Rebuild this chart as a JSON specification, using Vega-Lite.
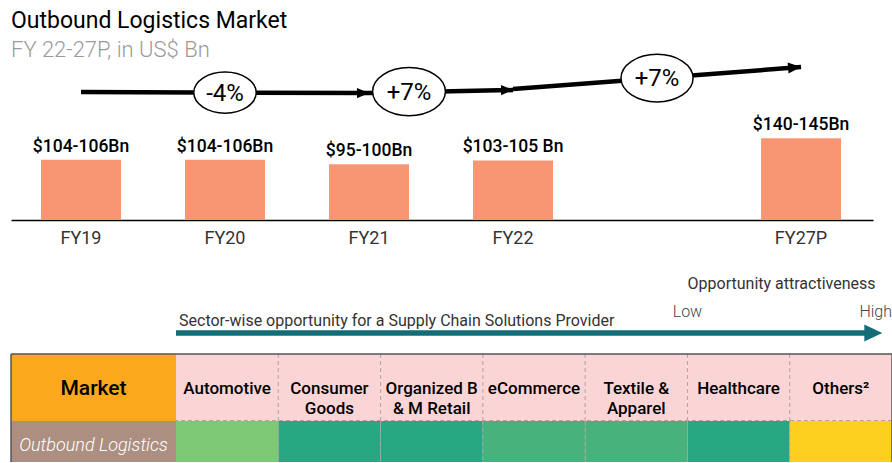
{
  "$schema": "https://vega.github.io/schema/vega-lite/v6.json",
  "padding": {"left": 10, "top": 10, "right": 0, "bottom": 0},
  "background": "white",
  "title": {
    "text": "Outbound Logistics Market",
    "subtitle": "FY 22-27P, in US$ Bn",
    "anchor": "start",
    "frame": "group",
    "baseline": "top",
    "font": "Roboto",
    "fontSize": 23,
    "fontWeight": 400,
    "color": "#000000",
    "subtitleFont": "Roboto",
    "subtitleFontSize": 22,
    "subtitleFontWeight": 300,
    "subtitleColor": "#9a9a9a",
    "subtitlePadding": 7,
    "offset": -10
  },
  "config": {"view": {"stroke": null}, "font": "Roboto", "concat": {"spacing": 0}},
  "spacing": 0,
  "bounds": "flush",
  "datasets": {
    "market": [
      {"year": "FY19", "value": 105, "label": "$104-106Bn"},
      {"year": "FY20", "value": 105, "label": "$104-106Bn"},
      {"year": "FY21", "value": 97.5, "label": "$95-100Bn"},
      {"year": "FY22", "value": 104, "label": "$103-105 Bn"},
      {"year": "FY27P", "value": 142.5, "label": "$140-145Bn"}
    ],
    "trend": [
      {"seg": 1, "year": "FY19", "level": 223.5, "end": false},
      {"seg": 1, "year": "FY21", "level": 221.5, "end": true},
      {"seg": 2, "year": "FY21", "level": 221.5, "end": false},
      {"seg": 2, "year": "FY22", "level": 226.8, "end": true},
      {"seg": 3, "year": "FY22", "level": 228.5, "end": false},
      {"seg": 3, "year": "FY27P", "level": 266.9, "end": true}
    ],
    "cagr": [
      {"period": "FY19-FY21", "year": "FY20", "level": 222.4, "cagr": "-4%"},
      {"period": "FY21-FY22", "year": "FY21", "level": 224.1, "cagr": "+7%"},
      {"period": "FY22-FY27P", "year": " ", "level": 247.7, "cagr": "+7%"}
    ],
    "sectors": [
      {"sector": "Automotive", "header": "Automotive", "market": "Outbound Logistics", "attractiveness": "Medium"},
      {"sector": "Consumer Goods", "header": "Consumer\nGoods", "market": "Outbound Logistics", "attractiveness": "High"},
      {"sector": "Organized B&M Retail", "header": "Organized B\n& M Retail", "market": "Outbound Logistics", "attractiveness": "High"},
      {"sector": "eCommerce", "header": "eCommerce", "market": "Outbound Logistics", "attractiveness": "Medium-High"},
      {"sector": "Textile & Apparel", "header": "Textile &\nApparel", "market": "Outbound Logistics", "attractiveness": "Medium-High"},
      {"sector": "Healthcare", "header": "Healthcare", "market": "Outbound Logistics", "attractiveness": "High"},
      {"sector": "Others", "header": "Others²", "market": "Outbound Logistics", "attractiveness": "Low"}
    ]
  },
  "vconcat": [
    {
      "width": 862,
      "height": 161,
      "layer": [
        {
          "data": {"name": "market"},
          "mark": {"type": "bar", "color": "#F89673"},
          "encoding": {
            "x": {
              "field": "year", "type": "nominal", "sort": null,
              "scale": {"type": "band", "domain": ["FY19", "FY20", "FY21", "FY22", " ", "FY27P"], "paddingInner": 0.4444, "paddingOuter": 0.215, "align": 0.484},
              "axis": {"title": null, "labelAngle": 0, "labelFont": "Roboto", "labelFontSize": 18, "labelFontWeight": 400, "labelColor": "#333333", "labelPadding": 9, "ticks": false, "domainColor": "#000000", "domainWidth": 1.5}
            },
            "y": {"field": "value", "type": "quantitative", "scale": {"domain": [0, 281], "nice": false, "zero": true}, "axis": null}
          }
        },
        {
          "data": {"name": "market"},
          "mark": {"type": "text", "baseline": "alphabetic", "dy": -8, "font": "Roboto", "fontSize": 17.5, "fontWeight": 500, "color": "#000000"},
          "encoding": {
            "x": {"field": "year", "type": "nominal"},
            "y": {"field": "value", "type": "quantitative", "axis": null},
            "text": {"field": "label"}
          }
        },
        {
          "data": {"name": "trend"},
          "mark": {"type": "line", "color": "#000000", "strokeWidth": 4.5, "strokeCap": "butt"},
          "encoding": {
            "x": {"field": "year", "type": "nominal"},
            "y": {"field": "level", "type": "quantitative", "axis": null},
            "detail": {"field": "seg", "type": "nominal"}
          }
        },
        {
          "data": {"name": "trend"},
          "transform": [{"filter": "datum.end && datum.seg < 3"}],
          "mark": {"type": "point", "shape": "M0,0L-2,-0.85L-2,0.85Z", "size": 144, "filled": true, "color": "#000000", "opacity": 1, "strokeWidth": 0, "angle": -0.6},
          "encoding": {
            "x": {"field": "year", "type": "nominal"},
            "y": {"field": "level", "type": "quantitative", "axis": null}
          }
        },
        {
          "data": {"name": "trend"},
          "transform": [{"filter": "datum.end && datum.seg == 3"}],
          "mark": {"type": "point", "shape": "M0,0L-2,-0.85L-2,0.85Z", "size": 169, "filled": true, "color": "#000000", "opacity": 1, "strokeWidth": 0, "angle": -4.4},
          "encoding": {
            "x": {"field": "year", "type": "nominal"},
            "y": {"field": "level", "type": "quantitative", "axis": null}
          }
        },
        {
          "data": {"name": "cagr"},
          "transform": [{"filter": "datum.period != 'FY21-FY22'"}],
          "mark": {"type": "point", "shape": "M-1,0A1,0.66,0,0,1,1,0A1,0.66,0,0,1,-1,0Z", "filled": false, "fill": "#ffffff", "fillOpacity": 1, "stroke": "#000000", "strokeWidth": 1.5, "opacity": 1},
          "encoding": {
            "x": {"field": "year", "type": "nominal"},
            "y": {"field": "level", "type": "quantitative", "axis": null},
            "size": {"condition": {"test": "datum.period == 'FY19-FY21'", "value": 3900}, "value": 5200}
          }
        },
        {
          "data": {"name": "cagr"},
          "transform": [{"filter": "datum.period == 'FY21-FY22'"}],
          "mark": {"type": "point", "shape": "M-1,0A1,0.66,0,0,1,1,0A1,0.66,0,0,1,-1,0Z", "filled": false, "fill": "#ffffff", "fillOpacity": 1, "stroke": "#000000", "strokeWidth": 1.5, "opacity": 1, "size": 5300},
          "encoding": {
            "x": {"field": "year", "type": "nominal", "bandPosition": 1},
            "y": {"field": "level", "type": "quantitative", "axis": null}
          }
        },
        {
          "data": {"name": "cagr"},
          "transform": [{"filter": "datum.period != 'FY21-FY22'"}],
          "mark": {"type": "text", "baseline": "middle", "dy": 1, "font": "Roboto", "fontSize": 24, "color": "#000000"},
          "encoding": {
            "x": {"field": "year", "type": "nominal"},
            "y": {"field": "level", "type": "quantitative", "axis": null},
            "text": {"field": "cagr"}
          }
        },
        {
          "data": {"name": "cagr"},
          "transform": [{"filter": "datum.period == 'FY21-FY22'"}],
          "mark": {"type": "text", "baseline": "middle", "dy": 1, "font": "Roboto", "fontSize": 24, "color": "#000000"},
          "encoding": {
            "x": {"field": "year", "type": "nominal", "bandPosition": 1},
            "y": {"field": "level", "type": "quantitative", "axis": null},
            "text": {"field": "cagr"}
          }
        }
      ]
    },
    {
      "width": 881,
      "height": 134,
      "data": {"values": [{}]},
      "layer": [
        {
          "mark": {"type": "rule", "color": "#146C78", "strokeWidth": 5.5},
          "encoding": {
            "x": {"datum": 0, "type": "quantitative", "scale": {"domain": [-1.613, 7], "nice": false, "zero": false}, "axis": null},
            "x2": {"datum": 6.74},
            "y": {"datum": 1.57, "type": "quantitative", "scale": {"domain": [0, 10], "nice": false, "zero": false}, "axis": null}
          }
        },
        {
          "mark": {"type": "point", "shape": "M0,0L-2,-0.95L-2,0.95Z", "size": 324, "filled": true, "color": "#146C78", "opacity": 1, "strokeWidth": 0},
          "encoding": {
            "x": {"datum": 6.905, "type": "quantitative"},
            "y": {"datum": 1.57, "type": "quantitative"}
          }
        },
        {
          "mark": {"type": "text", "align": "left", "baseline": "alphabetic", "font": "Roboto", "fontSize": 16, "color": "#333333"},
          "encoding": {
            "x": {"datum": 0.03, "type": "quantitative"},
            "y": {"datum": 2.09, "type": "quantitative"},
            "text": {"value": "Sector-wise opportunity for a Supply Chain Solutions Provider"}
          }
        },
        {
          "mark": {"type": "text", "align": "center", "baseline": "middle", "font": "Roboto", "fontSize": 16, "color": "#333333"},
          "encoding": {
            "x": {"datum": 5.92, "type": "quantitative"},
            "y": {"datum": 5.22, "type": "quantitative"},
            "text": {"value": "Opportunity attractiveness"}
          }
        },
        {
          "mark": {"type": "text", "align": "center", "baseline": "middle", "font": "Roboto", "fontSize": 16, "fontWeight": 300, "color": "#444444"},
          "encoding": {
            "x": {"datum": 5.0, "type": "quantitative"},
            "y": {"datum": 3.13, "type": "quantitative"},
            "text": {"value": "Low"}
          }
        },
        {
          "mark": {"type": "text", "align": "right", "baseline": "middle", "font": "Roboto", "fontSize": 16, "fontWeight": 300, "color": "#444444"},
          "encoding": {
            "x": {"datum": 7.0, "type": "quantitative"},
            "y": {"datum": 3.13, "type": "quantitative"},
            "text": {"value": "High"}
          }
        }
      ]
    },
    {
      "width": 881,
      "height": 67,
      "resolve": {"scale": {"x": "independent"}},
      "layer": [
        {
          "data": {"name": "sectors"},
          "layer": [
            {
              "mark": {"type": "rect", "color": "#FBD5D5"},
              "encoding": {
                "x": {"field": "sector", "type": "nominal", "sort": null, "scale": {"domain": ["Automotive", "Consumer Goods", "Organized B&M Retail", "eCommerce", "Textile & Apparel", "Healthcare", "Others"], "paddingInner": 0, "paddingOuter": 0.8065, "align": 1}, "axis": null},
                "y": {"datum": "Header", "type": "nominal", "scale": {"paddingInner": 0, "paddingOuter": 0}, "axis": null}
              }
            },
            {
              "transform": [{"filter": "datum.sector != 'Automotive'"}],
              "mark": {"type": "rule", "color": "#B3A1A1", "strokeWidth": 1, "strokeDash": [4, 3]},
              "encoding": {"x": {"field": "sector", "type": "nominal", "sort": null, "bandPosition": 0}}
            },
            {
              "mark": {"type": "rule", "color": "#B3A1A1", "strokeWidth": 2, "strokeDash": [4, 3]},
              "encoding": {"y": {"datum": "Header", "type": "nominal", "bandPosition": 1}}
            },
            {
              "mark": {"type": "text", "font": "Roboto", "fontSize": 17, "fontWeight": 500, "color": "#000000", "baseline": "middle", "dy": 1.5, "lineBreak": "\n", "lineHeight": 20},
              "encoding": {
                "x": {"field": "sector", "type": "nominal", "sort": null},
                "y": {"datum": "Header", "type": "nominal"},
                "text": {"field": "header"}
              }
            },
            {
              "transform": [{"filter": "datum.sector == 'Others'"}],
              "mark": {"type": "rule", "color": "#555555", "strokeWidth": 1.5},
              "encoding": {"x": {"field": "sector", "type": "nominal", "sort": null, "bandPosition": 1}}
            }
          ]
        },
        {
          "data": {"values": [{"col": "Market"}]},
          "layer": [
            {
              "mark": {"type": "rect", "color": "#FBA81C"},
              "encoding": {
                "x": {"datum": -1.613, "type": "quantitative", "scale": {"domain": [-1.613, 7], "nice": false, "zero": false}, "axis": null},
                "x2": {"datum": 0},
                "y": {"datum": "Header", "type": "nominal"}
              }
            },
            {
              "mark": {"type": "text", "font": "Roboto", "fontSize": 21, "fontWeight": 500, "color": "#000000", "baseline": "middle", "dy": 1.5},
              "encoding": {
                "x": {"datum": -0.8065, "type": "quantitative"},
                "y": {"datum": "Header", "type": "nominal"},
                "text": {"field": "col"}
              }
            },
            {
              "mark": {"type": "rule", "color": "#555555", "strokeWidth": 1.5},
              "encoding": {"x": {"datum": -1.613, "type": "quantitative"}}
            },
            {
              "mark": {"type": "rule", "color": "#555555", "strokeWidth": 1.5},
              "encoding": {"y": {"datum": "Header", "type": "nominal", "bandPosition": 0}}
            }
          ]
        }
      ]
    },
    {
      "width": 881,
      "height": 41,
      "resolve": {"scale": {"x": "independent"}},
      "layer": [
        {
          "data": {"name": "sectors"},
          "layer": [
            {
              "mark": {"type": "rect"},
              "encoding": {
                "x": {"field": "sector", "type": "nominal", "sort": null, "scale": {"domain": ["Automotive", "Consumer Goods", "Organized B&M Retail", "eCommerce", "Textile & Apparel", "Healthcare", "Others"], "paddingInner": 0, "paddingOuter": 0.8065, "align": 1}, "axis": null},
                "y": {"field": "market", "type": "nominal", "scale": {"paddingInner": 0, "paddingOuter": 0}, "axis": null},
                "color": {"field": "attractiveness", "type": "ordinal", "scale": {"domain": ["Low", "Medium", "Medium-High", "High"], "range": ["#FDD01F", "#7DC875", "#48B27D", "#27A882"]}, "legend": null}
              }
            },
            {
              "transform": [{"filter": "datum.sector != 'Automotive'"}],
              "mark": {"type": "rule", "color": "#B3A1A1", "strokeWidth": 1, "strokeDash": [4, 3]},
              "encoding": {"x": {"field": "sector", "type": "nominal", "sort": null, "bandPosition": 0}}
            },
            {
              "transform": [{"filter": "datum.sector == 'Others'"}],
              "mark": {"type": "rule", "color": "#555555", "strokeWidth": 1.5},
              "encoding": {"x": {"field": "sector", "type": "nominal", "sort": null, "bandPosition": 1}}
            }
          ]
        },
        {
          "data": {"values": [{"market": "Outbound Logistics"}]},
          "layer": [
            {
              "mark": {"type": "rect", "color": "#AC8F80"},
              "encoding": {
                "x": {"datum": -1.613, "type": "quantitative", "scale": {"domain": [-1.613, 7], "nice": false, "zero": false}, "axis": null},
                "x2": {"datum": 0},
                "y": {"field": "market", "type": "nominal"}
              }
            },
            {
              "mark": {"type": "text", "font": "Roboto", "fontSize": 18, "fontStyle": "italic", "fontWeight": 300, "color": "#ffffff", "baseline": "middle", "dy": 4},
              "encoding": {
                "x": {"datum": -0.8065, "type": "quantitative"},
                "y": {"field": "market", "type": "nominal"},
                "text": {"field": "market"}
              }
            },
            {
              "mark": {"type": "rule", "color": "#555555", "strokeWidth": 1.5},
              "encoding": {"x": {"datum": -1.613, "type": "quantitative"}}
            }
          ]
        }
      ]
    }
  ]
}
